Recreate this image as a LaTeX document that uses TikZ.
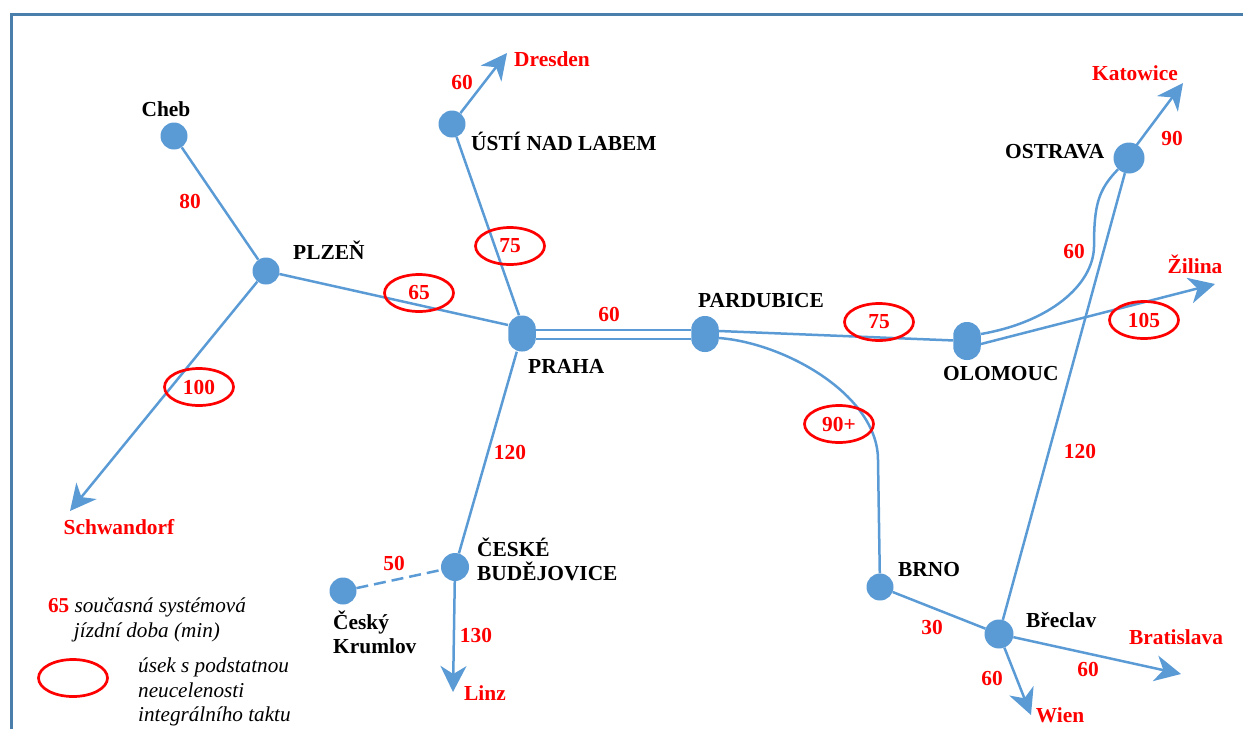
\documentclass[tikz,border=0pt]{standalone}
\usepackage{fontspec}
\setmainfont{Liberation Serif}
\usetikzlibrary{arrows.meta}
\usetikzlibrary{positioning}
\usetikzlibrary{shapes}

\definecolor{LineBlue}{HTML}{5B9BD5}
\definecolor{FrameBlue}{HTML}{4A7EAB}

\newcommand{\BoldFont}{\fontsize{21.4}{24}\selectfont\bfseries}

\tikzstyle{track}=[line width=2.5pt,LineBlue]
\tikzstyle{trackout}=[track,-{Stealth[length=26pt,width=26pt,inset=8pt]}]
\tikzstyle{stop}=[circle,fill=LineBlue,minimum size=27pt,inner sep=0pt]
\tikzstyle{bigstop}=[rectangle,rounded corners=13.5pt,fill=LineBlue,minimum width=27.5pt,minimum height=36pt,inner sep=0pt]
\tikzstyle{town}=[font=\BoldFont,align=left,inner sep=0pt]
\tikzstyle{abroad}=[font=\BoldFont,text=red,inner sep=0pt]
\tikzstyle{minutes}=[abroad]
\tikzstyle{ring}=[ellipse,draw=red,line width=2.7pt,minimum width=69pt,minimum height=37pt,inner sep=0pt,font=\BoldFont,text=red]
\tikzstyle{note}=[font=\fontsize{21.2}{24.5}\selectfont\itshape,inner sep=0pt]

\begin{document}
\begin{tikzpicture}
	[x=1pt,y=-1pt]

\useasboundingbox (0,0) rectangle (1243,729);

% Frame
\draw[line width=3pt,FrameBlue]
	(11,729) |- (1243,14);

% Stations
\node (cheb) [stop] at (174,136) {};
\node (plzen) [stop] at (266,271) {};
\node (usti) [stop] at (452,124) {};
\node (praha) [bigstop] at (522,333.5) {};
\node (pardubice) [bigstop] at (705,334) {};
\node (olomouc) [bigstop,minimum height=38pt] at (967,341) {};
\node (ostrava) [stop,minimum size=31pt] at (1129,158) {};
\node (budejovice) [stop,minimum size=28pt] at (455,567) {};
\node (krumlov) [stop] at (343,591) {};
\node (brno) [stop] at (880,587) {};
\node (breclav) [stop,minimum size=29pt] at (999,634) {};

% Free ends of the lines
\coordinate (dresdenend) at (507,53);
\coordinate (katowiceend) at (1183,83);
\coordinate (zilinaend) at (1215,284);
\coordinate (schwandorfend) at (70,511);
\coordinate (linzend) at (453,692);
\coordinate (wienend) at (1031,715);
\coordinate (bratislavaend) at (1181,674);

% Lines
\draw[track] (cheb) -- (plzen);
\draw[track] (plzen) -- ([yshift=8.5pt]praha.west);
\draw[track] (usti) -- ([xshift=-3pt]praha.north);
\draw[track] (praha) -- (budejovice);
\draw[track] ([yshift=3.5pt]praha.east) -- ([yshift=4pt]pardubice.west);
\draw[track] ([yshift=-5.5pt]praha.east) -- ([yshift=-5pt]pardubice.west);
\draw[track] ([yshift=3pt]pardubice.east) -- (olomouc);
\draw[track] ([yshift=-4pt]pardubice.east) .. controls (785,343) and (878,395) ..
	(878,460) -- (brno);
\draw[track] ([yshift=7pt]olomouc.east) .. controls (1050,322) and (1093,285) .. (1094,247)
	.. controls (1094,205) and (1098,190) .. (ostrava);
\draw[track] (ostrava) -- (breclav);
\draw[track] (brno) -- (breclav);
\draw[track,dashed,dash pattern=on 12pt off 6pt] (krumlov) -- (budejovice);
\draw[trackout] (plzen) -- (schwandorfend);
\draw[trackout] (usti) -- (dresdenend);
\draw[trackout] ([xshift=-2pt]ostrava.center) -- (katowiceend);
\draw[trackout] ([yshift=-3pt]olomouc.east) -- (zilinaend);
\draw[trackout] (budejovice) -- (linzend);
\draw[trackout] (breclav) -- (wienend);
\draw[trackout] (breclav) -- (bratislavaend);

% Town names
\node (chebname) [town] at (166,109) {Cheb};
\node (plzenname) [town,anchor=west] at (293,250) {PLZEŇ};
\node (ustiname) [town,anchor=west] at (471,141) {ÚSTÍ NAD LABEM};
\node (prahaname) [town,anchor=west] at (528,366) {PRAHA};
\node (pardubicename) [town,anchor=west] at (698,301) {PARDUBICE};
\node (olomoucname) [town,anchor=west] at (943,374) {OLOMOUC};
\node (ostravaname) [town,anchor=west] at (1005,152) {OSTRAVA};
\node (budejovicename) [town,anchor=west] at (477,559) {ČESKÉ\\BUDĚJOVICE};
\node (krumlovname) [town,anchor=west] at (333,632) {Český\\Krumlov};
\node (brnoname) [town,anchor=west] at (898,570) {BRNO};
\node (breclavname) [town,anchor=west] at (1026,620) {Břeclav};

% Places abroad
\node (dresdenname) [abroad,anchor=west] at (514,59) {Dresden};
\node (katowicename) [abroad] at (1135,73) {Katowice};
\node (zilinaname) [abroad] at (1195,264) {Žilina};
\node (schwandorfname) [abroad] at (119,527) {Schwandorf};
\node (linzname) [abroad] at (485,693) {Linz};
\node (wienname) [abroad] at (1060,715) {Wien};
\node (bratislavaname) [abroad] at (1176,637) {Bratislava};

% Times
\node (chebtime) [minutes] at (190,201) {80};
\node (dresdentime) [minutes] at (462,82) {60};
\node (katowicetime) [minutes] at (1172,138) {90};
\node (olomouctime) [minutes] at (1074,251) {60};
\node (prahatime) [minutes] at (609,314) {60};
\node (budejovicetime) [minutes] at (510,452) {120};
\node (breclavtime) [minutes] at (1080,451) {120};
\node (krumlovtime) [minutes] at (394,563) {50};
\node (linztime) [minutes] at (476,635) {130};
\node (brnotime) [minutes] at (932,627) {30};
\node (wientime) [minutes] at (992,678) {60};
\node (bratislavatime) [minutes] at (1088,669) {60};

% Times in rings
\node (plzenring) [ring] at (419,293) {65};
\node (ustiring) [ring] at (510,246) {75};
\node (schwandorfring) [ring] at (199,387) {100};
\node (olomoucring) [ring] at (879,322) {75};
\node (zilinaring) [ring] at (1144,320) {105};
\node (brnoring) [ring] at (839,424) {90+};

% Legend
\node (legendtime) [note,align=center] at (147,620)
	{\textcolor{red}{\upshape\bfseries 65} současná systémová\\jízdní doba (min)};
\node (legendring) [ring] at (73,678) {};
\node (legendtext) [note,align=left,anchor=west] at (138,692)
	{úsek s podstatnou\\neucelenosti\\integrálního taktu};

\end{tikzpicture}
\end{document}
